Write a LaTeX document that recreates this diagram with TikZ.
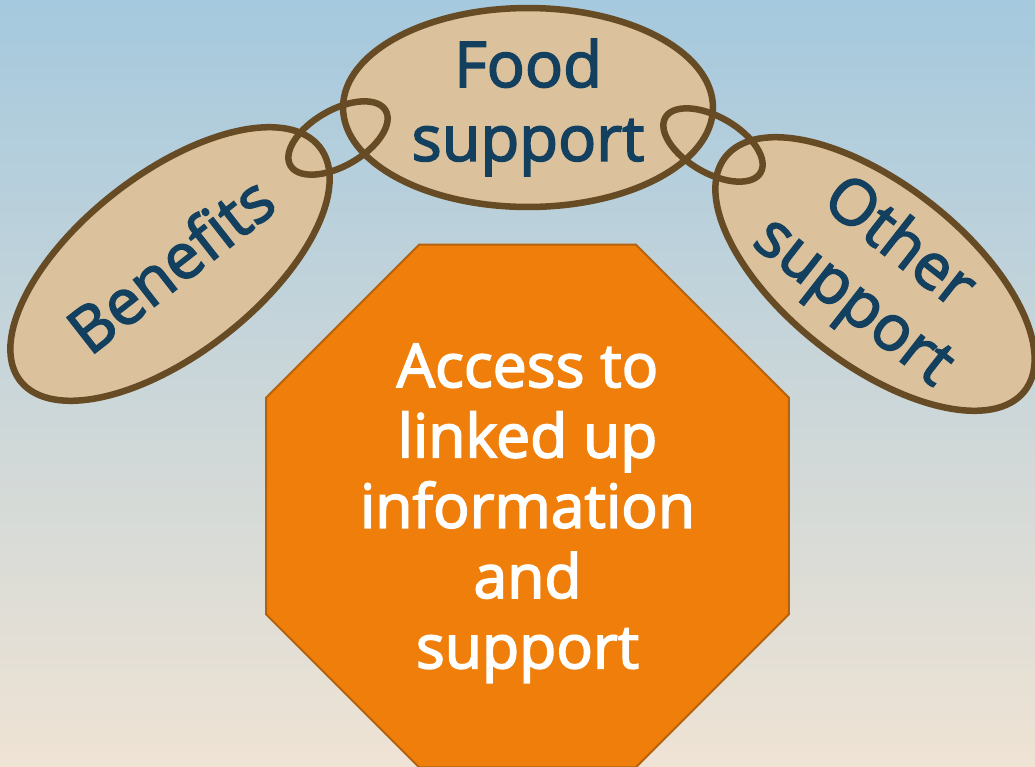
\documentclass[tikz,border=0pt]{standalone}
\usepackage{fontspec}
\usepackage{xcolor}
\usepackage{tikz}
\usetikzlibrary{shapes,positioning}
\newfontfamily\diagfont{Open Sans}
\newcommand\heavier{\special{pdf:literal direct 2 Tr 0.9 w}}
\definecolor{bgtop}{RGB}{165,201,222}
\definecolor{bgbottom}{RGB}{239,227,212}
\definecolor{tagfill}{RGB}{219,194,156}
\definecolor{ropebrown}{RGB}{102,75,36}
\definecolor{textnavy}{RGB}{19,64,94}
\definecolor{stopfill}{RGB}{239,127,10}
\definecolor{stopline}{RGB}{181,98,14}

\begin{document}
\begin{tikzpicture}[x=0.02cm, y=-0.02cm, outer sep=0pt,
    tag/.style={ellipse, draw=ropebrown, fill=tagfill, line width=3.7pt, inner sep=0pt, text=textnavy, font=\diagfont\fontsize{36}{42}\selectfont\heavier, align=center},
    ring/.style={ellipse, draw=ropebrown, line width=3.7pt, minimum width=2.2cm, minimum height=1.12cm}]
    \shade[top color=bgtop, bottom color=bgbottom] (0,0) rectangle (1035,767);
    \useasboundingbox (0,0) rectangle (1035,767);
    \node (food) [tag, minimum width=7.4cm, minimum height=3.98cm] at (528,107.5) {Food\\support};
    \node (benefits) [tag, minimum width=7.6cm, minimum height=3.6cm, rotate=38] at (170,264) {Benefits};
    \node (other) [tag, minimum width=7.6cm, minimum height=3.6cm, rotate=-38, inner ysep=-3.5pt] at (875,274) {Other\\support};
    \node (leftring) [ring, rotate=30] at (338,138) {};
    \node (rightring) [ring, rotate=-30] at (713,145) {};
    \node (access) [regular polygon, regular polygon sides=8, minimum size=11.32cm, inner sep=0pt, fill=stopfill, draw=stopline, line width=1.1pt, text=white, font=\diagfont\fontsize{34.5}{40}\selectfont\heavier, align=center, text depth=0pt] at (527.5,506) {Access to\\linked up\\information\\and\\support};
\end{tikzpicture}
\end{document}
